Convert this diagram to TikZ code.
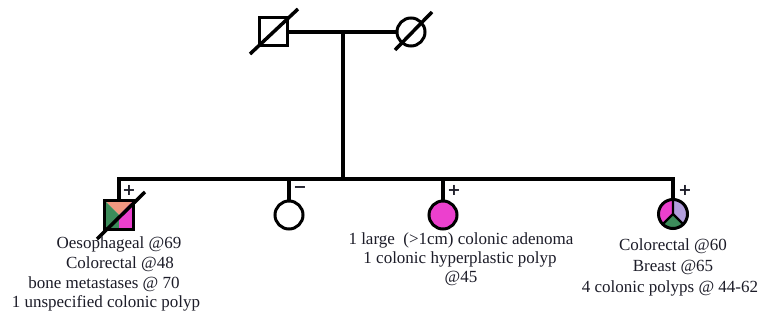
\documentclass[tikz,border=0pt]{standalone}
\usepackage{fontspec}
\setmainfont{Liberation Serif}
\newfontfamily\signfont{DejaVu Sans}
\definecolor{txtc}{HTML}{1C1C28}
\definecolor{salmonc}{HTML}{F09880}
\definecolor{greenc}{HTML}{3C8C5A}
\definecolor{magc}{HTML}{EC40CE}
\definecolor{lavc}{HTML}{B29EDC}
\begin{document}
\begin{tikzpicture}[x=1pt,y=-1pt,
  lineS/.style={line width=3.5pt},
  shapeS/.style={draw=black,line width=3pt,inner sep=0pt,outer sep=0pt},
  sqS/.style={shapeS,rectangle,minimum size=28pt},
  ciS/.style={shapeS,circle,minimum size=28pt},
  lbl/.style={anchor=base,inner sep=0pt,font=\fontsize{17}{20}\selectfont,text=txtc},
  sgn/.style={inner sep=0pt,text=txtc,font=\signfont\fontsize{16}{16}\selectfont\bfseries}]
\useasboundingbox[fill=white] (0,0) rectangle (760,320);

% parents
\node[sqS] (gf) at (273,32) {};
\node[ciS] (gm) at (411,32) {};
\draw[lineS] (250,54) -- (298,9);
\draw[lineS] (395,50) -- (432,12);
\draw[lineS] (gf.east) -- (gm.west);
\coordinate (m) at (343,32);
\coordinate (s) at (343,179);
\draw[lineS] (m) -- (s);

% child 1 fills
\fill[salmonc] (104,200) -- (134,200) -- (119,215) -- cycle;
\fill[greenc] (104,200) -- (119,215) -- (119,230) -- (104,230) -- cycle;
\fill[magc] (134,200) -- (119,215) -- (119,230) -- (134,230) -- cycle;
\node[sqS,minimum size=29pt] (c1) at (119,215) {};
\draw[lineS] (97,239) -- (145,192);

% child 2
\node[ciS] (c2) at (289,215) {};
% child 3
\node[ciS,fill=magc] (c3) at (443,215) {};
% child 4 fills
\fill[magc] (673,214) -- ++(-90:15) arc (-90:-225:15) -- cycle;
\fill[greenc] (673,214) -- ++(-225:15) arc (-225:-315:15) -- cycle;
\fill[lavc] (673,214) -- ++(45:15) arc (45:-90:15) -- cycle;
\draw[line width=2.2pt] (673,200) -- (673,214) -- ++(135:14);
\draw[line width=2.2pt] (673,214) -- ++(45:14);
\node[ciS,minimum size=29pt] (c4) at (673,214) {};

% sibship
\coordinate (s1) at (119,179);
\coordinate (s4) at (673,179);
\draw[lineS] (c1.north) -- (s1) -- (s4) -- (c4.north);
\draw[lineS] (c2.north) -- (c2.north |- s1);
\draw[lineS] (c3.north) -- (c3.north |- s1);

% status signs
\node[sgn] (p1) at (129,190) {+};
\node[sgn] (p2) at (300,190) {−};
\node[sgn] (p3) at (454,190) {+};
\node[sgn] (p4) at (685,190) {+};

% labels
\node[lbl] (t11) at (119,249) {Oesophageal @69};
\node[lbl] (t12) at (120,269) {Colorectal @48};
\node[lbl] (t13) at (104,289) {bone metastases @ 70};
\node[lbl] (t14) at (106,308) {1 unspecified colonic polyp};

\node[lbl] (t31) at (461,245) {1 large\ \ (>1cm) colonic adenoma};
\node[lbl] (t32) at (460,264) {1 colonic hyperplastic polyp};
\node[lbl] (t33) at (461,283) {@45};

\node[lbl] (t41) at (673,251) {Colorectal @60};
\node[lbl] (t42) at (673,272) {Breast @65};
\node[lbl] (t43) at (670,292) {4 colonic polyps @ 44-62};
\end{tikzpicture}
\end{document}
